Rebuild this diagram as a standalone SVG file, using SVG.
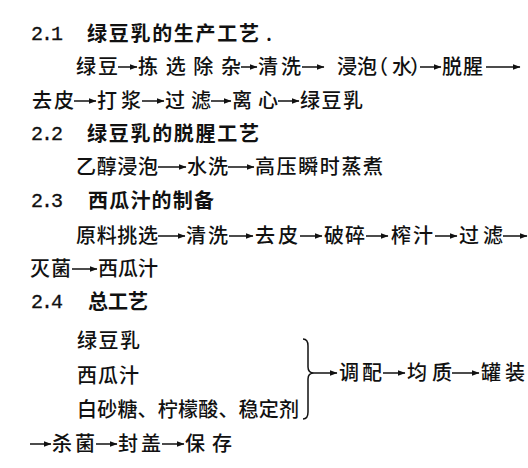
<svg xmlns="http://www.w3.org/2000/svg" width="528" height="468" viewBox="0 0 528 468">
<defs>
<style>
.t{font-family:"Noto Sans CJK SC","Noto Sans CJK JP",sans-serif;font-size:20px;font-weight:500;fill:#111}
.h{font-weight:bold}
.n{font-family:"Liberation Mono","DejaVu Sans Mono",monospace;font-size:20px;fill:#111;stroke:#111;stroke-width:0.3}
.a{stroke:#111;stroke-width:1.5;fill:none;marker-end:url(#ah)}
.br{stroke:#111;stroke-width:1.5;fill:none}
</style>
<marker id="ah" viewBox="0 0 8 6" refX="7.5" refY="3" markerWidth="8" markerHeight="6" markerUnits="userSpaceOnUse" orient="auto">
<path d="M0,0 L8,3 L0,6 z" fill="#111"/>
</marker>
</defs>
<rect width="528" height="468" fill="#fff"/>

<g id="sec21">
<text class="n" x="31" y="40" textLength="32" lengthAdjust="spacing">2.1</text>
<text class="t h" x="87" y="41" textLength="172" lengthAdjust="spacing">绿豆乳的生产工艺</text>
<text class="t" x="266" y="41">.</text>
</g>
<g id="line21a">
<g id="n-ld"><text class="t" x="76" y="74" textLength="42" lengthAdjust="spacing">绿豆</text></g>
<g id="n-jxcz"><text class="t" x="138" y="74" textLength="103" lengthAdjust="spacing">拣选除杂</text></g>
<g id="n-qx1"><text class="t" x="258" y="74" textLength="43" lengthAdjust="spacing">清洗</text></g>
<g id="n-jp"><text class="t" x="337 357 368 392 410" y="74">浸泡（水）</text></g>
<g id="n-tx"><text class="t" x="442" y="74" textLength="41" lengthAdjust="spacing">脱腥</text></g>
</g>
<g id="line21b">
<g id="n-qp1"><text class="t" x="32" y="108" textLength="42" lengthAdjust="spacing">去皮</text></g>
<g id="n-dj"><text class="t" x="97" y="108" textLength="44" lengthAdjust="spacing">打浆</text></g>
<g id="n-gl1"><text class="t" x="165" y="108" textLength="46" lengthAdjust="spacing">过滤</text></g>
<g id="n-lx"><text class="t" x="232" y="108" textLength="46" lengthAdjust="spacing">离心</text></g>
<g id="n-ldr1"><text class="t" x="300" y="108" textLength="63" lengthAdjust="spacing">绿豆乳</text></g>
</g>

<g id="sec22">
<text class="n" x="31" y="140" textLength="32" lengthAdjust="spacing">2.2</text>
<text class="t h" x="87" y="141" textLength="172" lengthAdjust="spacing">绿豆乳的脱腥工艺</text>
</g>
<g id="line22">
<g id="n-ycjp"><text class="t" x="76" y="174" textLength="82" lengthAdjust="spacing">乙醇浸泡</text></g>
<g id="n-sx"><text class="t" x="187" y="174" textLength="41" lengthAdjust="spacing">水洗</text></g>
<g id="n-gy"><text class="t" x="255" y="174" textLength="128" lengthAdjust="spacing">高压瞬时蒸煮</text></g>
</g>

<g id="sec23">
<text class="n" x="31" y="207" textLength="32" lengthAdjust="spacing">2.3</text>
<text class="t h" x="88" y="208" textLength="126" lengthAdjust="spacing">西瓜汁的制备</text>
</g>
<g id="line23a">
<g id="n-ylt"><text class="t" x="76" y="243" textLength="82" lengthAdjust="spacing">原料挑选</text></g>
<g id="n-qx2"><text class="t" x="186" y="243" textLength="42" lengthAdjust="spacing">清洗</text></g>
<g id="n-qp2"><text class="t" x="255" y="243" textLength="43" lengthAdjust="spacing">去皮</text></g>
<g id="n-ps"><text class="t" x="324" y="243" textLength="41" lengthAdjust="spacing">破碎</text></g>
<g id="n-zz"><text class="t" x="391" y="243" textLength="42" lengthAdjust="spacing">榨汁</text></g>
<g id="n-gl2"><text class="t" x="459" y="243" textLength="44" lengthAdjust="spacing">过滤</text></g>
</g>
<g id="line23b">
<g id="n-mj1"><text class="t" x="30" y="276" textLength="41" lengthAdjust="spacing">灭菌</text></g>
<g id="n-xgz1"><text class="t" x="98" y="276" textLength="60" lengthAdjust="spacing">西瓜汁</text></g>
</g>

<g id="sec24">
<text class="n" x="31" y="308" textLength="32" lengthAdjust="spacing">2.4</text>
<text class="t h" x="88" y="309" textLength="60" lengthAdjust="spacing">总工艺</text>
</g>
<g id="line24">
<g id="n-ldr2"><text class="t" x="77" y="348" textLength="63" lengthAdjust="spacing">绿豆乳</text></g>
<g id="n-xgz2"><text class="t" x="77" y="383" textLength="62" lengthAdjust="spacing">西瓜汁</text></g>
<g id="n-fl"><text class="t" x="77" y="417" textLength="222" lengthAdjust="spacing">白砂糖、柠檬酸、稳定剂</text></g>
<g id="n-tp"><text class="t" x="339" y="380" textLength="43" lengthAdjust="spacing">调配</text></g>
<g id="n-jz"><text class="t" x="407" y="380" textLength="45" lengthAdjust="spacing">均质</text></g>
<g id="n-gz"><text class="t" x="481" y="380" textLength="44" lengthAdjust="spacing">罐装</text></g>
<g id="n-sj"><text class="t" x="52" y="451" textLength="43" lengthAdjust="spacing">杀菌</text></g>
<g id="n-fg"><text class="t" x="118" y="451" textLength="43" lengthAdjust="spacing">封盖</text></g>
<g id="n-bc"><text class="t" x="185" y="451" textLength="47" lengthAdjust="spacing">保存</text></g>
</g>

<g id="connectors">
<line class="a" x1="118" y1="67" x2="137" y2="67"/>
<line class="a" x1="241" y1="67" x2="257" y2="67"/>
<line class="a" x1="302" y1="67" x2="324" y2="67"/>
<line class="a" x1="420" y1="67" x2="441" y2="67"/>
<line class="a" x1="486" y1="67" x2="520" y2="67"/>

<line class="a" x1="74" y1="101" x2="96" y2="101"/>
<line class="a" x1="142" y1="101" x2="164" y2="101"/>
<line class="a" x1="211" y1="101" x2="231" y2="101"/>
<line class="a" x1="278" y1="101" x2="299" y2="101"/>

<line class="a" x1="158" y1="167" x2="186" y2="167"/>
<line class="a" x1="228" y1="167" x2="254" y2="167"/>

<line class="a" x1="158" y1="236" x2="185" y2="236"/>
<line class="a" x1="229" y1="236" x2="253" y2="236"/>
<line class="a" x1="300" y1="236" x2="322" y2="236"/>
<line class="a" x1="366" y1="236" x2="388" y2="236"/>
<line class="a" x1="435" y1="236" x2="457" y2="236"/>
<line class="a" x1="503" y1="236" x2="527" y2="236"/>

<line class="a" x1="72" y1="269" x2="97" y2="269"/>

<path class="br" d="M303,339 Q308,339 308,346 L308,367 Q308,373 314,373 Q308,373 308,379 L308,412 Q308,419 303,419"/>
<line class="a" x1="314" y1="373" x2="337" y2="373"/>
<line class="a" x1="383" y1="373" x2="405" y2="373"/>
<line class="a" x1="452" y1="373" x2="479" y2="373"/>

<line class="a" x1="30" y1="444" x2="51" y2="444"/>
<line class="a" x1="96" y1="444" x2="117" y2="444"/>
<line class="a" x1="162" y1="444" x2="184" y2="444"/>
</g>
</svg>
